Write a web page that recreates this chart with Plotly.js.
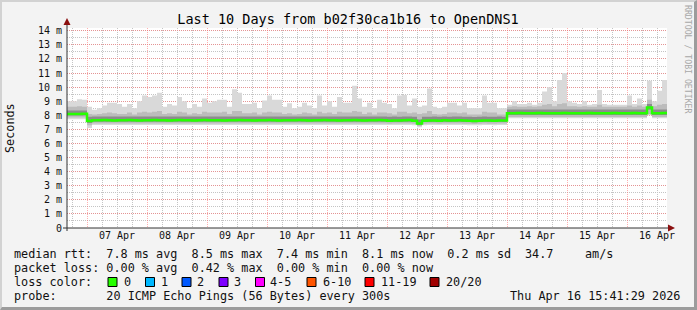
<!DOCTYPE html>
<html><head><meta charset="utf-8">
<script src="https://cdn.plot.ly/plotly-3.0.1.min.js"></script>
<style>
html,body{margin:0;padding:0;background:#f3f3f3;}
#wrap{position:relative;width:697px;height:310px;overflow:hidden;}
#chart{position:absolute;left:0;top:0;width:697px;height:310px;}
#frame{position:absolute;left:0;top:0;width:697px;height:310px;box-sizing:border-box;
border-top:2px solid #d2d2d2;border-left:2px solid #d2d2d2;border-right:3px solid #9c9c9c;border-bottom:3px solid #9c9c9c;pointer-events:none;}
</style></head>
<body><div id="wrap"><div id="chart"></div><div id="frame"></div></div>
<script>
// ---- data (2-hour samples from 06 Apr 16:00) ----
const startTime = Date.UTC(2026, 3, 6, 16, 0, 0);
const stepMs = 2 * 3600 * 1000;

const medianRtt = [
 8.10,8.10,8.10,8.12,7.60,7.65,7.65,7.66,7.65,7.64,
 7.65,7.65,7.66,7.65,7.64,7.65,7.65,7.66,7.65,7.65,
 7.64,7.65,7.66,7.65,7.65,7.64,7.65,7.66,7.65,7.65,
 7.65,7.64,7.65,7.65,7.66,7.65,7.65,7.64,7.65,7.65,
 7.66,7.65,7.64,7.65,7.65,7.65,7.66,7.65,7.64,7.65,
 7.65,7.66,7.65,7.65,7.64,7.65,7.65,7.66,7.65,7.64,
 7.65,7.65,7.66,7.65,7.62,7.64,7.63,7.65,7.66,7.62,
 7.42,7.62,7.63,7.64,7.62,7.65,7.63,7.64,7.65,7.63,
 7.62,7.60,7.62,7.64,7.63,7.62,7.64,7.63,8.15,8.15,
 8.16,8.15,8.14,8.15,8.16,8.15,8.15,8.14,8.15,8.16,
 8.15,8.14,8.15,8.15,8.16,8.15,8.14,8.15,8.15,8.16,
 8.15,8.14,8.15,8.16,8.15,8.15,8.55,8.15,8.15,8.16,
 8.16];

const maxRtt = [
 9.00,9.00,9.15,9.10,8.60,8.40,8.50,8.70,8.90,8.90,
 8.80,8.60,8.80,8.50,9.00,9.40,9.30,9.40,9.60,8.60,
 8.80,8.70,9.30,9.00,8.50,8.80,8.60,9.20,8.90,9.00,
 9.10,9.10,8.60,9.85,9.60,8.80,8.80,8.90,8.50,9.05,
 9.40,9.10,9.10,8.60,8.85,8.50,8.60,8.90,8.70,8.50,
 9.40,8.70,9.00,8.60,9.30,8.90,8.90,10.10,9.20,8.60,
 8.90,8.50,9.10,8.90,8.80,8.50,9.40,9.45,8.70,9.20,
 8.60,8.70,9.90,8.60,8.50,8.60,8.90,8.90,8.70,8.90,
 8.50,8.50,8.50,9.40,8.90,8.90,8.50,8.50,8.75,9.00,
 8.80,8.80,8.90,8.75,8.90,9.70,10.00,9.00,10.50,11.00,
 9.00,8.90,8.80,9.00,8.75,8.80,9.80,8.80,8.75,8.75,
 8.75,8.75,9.40,8.80,9.20,8.80,10.45,9.00,9.75,10.50,
 10.50];

const minRtt = [
 7.72,7.72,7.72,7.72,7.10,7.32,7.32,7.32,7.32,7.32,
 7.32,7.32,7.32,7.32,7.32,7.32,7.32,7.32,7.32,7.32,
 7.32,7.32,7.32,7.32,7.32,7.32,7.32,7.32,7.32,7.32,
 7.32,7.32,7.32,7.32,7.32,7.32,7.32,7.32,7.32,7.32,
 7.32,7.32,7.32,7.32,7.32,7.32,7.32,7.32,7.32,7.32,
 7.32,7.32,7.32,7.32,7.32,7.32,7.32,7.32,7.32,7.32,
 7.32,7.32,7.32,7.32,7.32,7.32,7.32,7.32,7.32,7.30,
 7.15,7.30,7.32,7.32,7.32,7.32,7.32,7.32,7.32,7.32,
 7.30,7.30,7.30,7.32,7.32,7.30,7.32,7.32,7.80,7.80,
 7.80,7.80,7.80,7.80,7.80,7.80,7.80,7.80,7.80,7.80,
 7.80,7.80,7.80,7.80,7.80,7.80,7.80,7.80,7.80,7.80,
 7.80,7.80,7.80,7.80,7.80,7.80,8.00,7.80,7.80,7.80,
 7.80];

const lowBand = [
 7.85,7.85,7.85,7.85,7.30,7.42,7.42,7.42,7.42,7.42,
 7.42,7.42,7.42,7.42,7.42,7.42,7.42,7.42,7.42,7.42,
 7.42,7.42,7.42,7.42,7.42,7.42,7.42,7.42,7.42,7.42,
 7.42,7.42,7.42,7.42,7.42,7.42,7.42,7.42,7.42,7.42,
 7.42,7.42,7.42,7.42,7.42,7.42,7.42,7.42,7.42,7.42,
 7.42,7.42,7.42,7.42,7.42,7.42,7.42,7.42,7.42,7.42,
 7.42,7.42,7.42,7.42,7.40,7.42,7.42,7.42,7.42,7.40,
 7.25,7.40,7.42,7.42,7.40,7.42,7.42,7.42,7.42,7.40,
 7.40,7.38,7.40,7.42,7.40,7.40,7.42,7.42,7.88,7.88,
 7.88,7.88,7.88,7.88,7.88,7.88,7.88,7.88,7.88,7.88,
 7.88,7.88,7.88,7.88,7.88,7.88,7.88,7.88,7.88,7.88,
 7.88,7.88,7.88,7.88,7.88,7.88,8.10,7.88,7.88,7.88,
 7.88];

const highBand = [
 8.60,8.60,8.65,8.60,8.10,8.05,8.10,8.15,8.20,8.15,
 8.10,8.10,8.20,8.05,8.20,8.25,8.20,8.25,8.30,8.10,
 8.15,8.10,8.25,8.20,8.05,8.15,8.10,8.25,8.20,8.20,
 8.20,8.25,8.10,8.30,8.30,8.15,8.15,8.20,8.05,8.20,
 8.25,8.20,8.20,8.10,8.15,8.05,8.10,8.20,8.15,8.05,
 8.25,8.15,8.20,8.10,8.25,8.20,8.20,8.30,8.25,8.10,
 8.20,8.05,8.20,8.20,8.15,8.05,8.25,8.25,8.15,8.20,
 8.10,8.15,8.30,8.10,8.05,8.10,8.20,8.20,8.15,8.20,
 8.05,8.05,8.05,8.25,8.20,8.20,8.05,8.05,8.60,8.65,
 8.60,8.60,8.65,8.60,8.65,8.75,8.80,8.65,8.80,8.85,
 8.65,8.65,8.60,8.65,8.60,8.60,8.75,8.60,8.60,8.60,
 8.60,8.60,8.70,8.60,8.70,8.60,9.10,8.65,8.75,8.80,
 8.80];

const darkLow = [
 7.98,7.98,7.98,7.98,7.45,7.55,7.55,7.55,7.55,7.55,
 7.55,7.55,7.55,7.55,7.55,7.55,7.55,7.55,7.55,7.55,
 7.55,7.55,7.55,7.55,7.55,7.55,7.55,7.55,7.55,7.55,
 7.55,7.55,7.55,7.55,7.55,7.55,7.55,7.55,7.55,7.55,
 7.55,7.55,7.55,7.55,7.55,7.55,7.55,7.55,7.55,7.55,
 7.55,7.55,7.55,7.55,7.55,7.55,7.55,7.55,7.55,7.55,
 7.55,7.55,7.55,7.55,7.52,7.54,7.53,7.55,7.55,7.52,
 7.32,7.52,7.53,7.54,7.52,7.55,7.53,7.54,7.55,7.53,
 7.52,7.50,7.52,7.54,7.53,7.52,7.54,7.53,8.02,8.02,
 8.02,8.02,8.02,8.02,8.02,8.02,8.02,8.02,8.02,8.02,
 8.02,8.02,8.02,8.02,8.02,8.02,8.02,8.02,8.02,8.02,
 8.02,8.02,8.02,8.02,8.02,8.02,8.40,8.02,8.02,8.02,
 8.02];

const darkHigh = [
 8.35,8.35,8.35,8.35,7.90,7.92,7.92,7.92,7.92,7.92,
 7.92,7.92,7.92,7.92,7.92,7.92,7.92,7.92,7.92,7.92,
 7.92,7.92,7.92,7.92,7.92,7.92,7.92,7.92,7.92,7.92,
 7.92,7.92,7.92,7.92,7.92,7.92,7.92,7.92,7.92,7.92,
 7.92,7.92,7.92,7.92,7.92,7.92,7.92,7.92,7.92,7.92,
 7.92,7.92,7.92,7.92,7.92,7.92,7.92,7.92,7.92,7.92,
 7.92,7.92,7.92,7.92,7.90,7.92,7.90,7.92,7.92,7.90,
 7.70,7.90,7.90,7.92,7.90,7.92,7.90,7.92,7.92,7.90,
 7.90,7.88,7.90,7.92,7.90,7.90,7.92,7.90,8.42,8.42,
 8.42,8.42,8.42,8.42,8.42,8.42,8.42,8.42,8.42,8.42,
 8.42,8.42,8.42,8.42,8.42,8.42,8.42,8.42,8.42,8.42,
 8.42,8.42,8.42,8.42,8.42,8.42,8.80,8.42,8.42,8.42,
 8.42];

const yTickValues = [0,1,2,3,4,5,6,7,8,9,10,11,12,13,14];
const yTickLabels = ['0','1 m','2 m','3 m','4 m','5 m','6 m','7 m','8 m','9 m','10 m','11 m','12 m','13 m','14 m'];

const rttStats = ['7.8','8.5','7.4','8.1','0.2'];
const amPerSec = '34.7';
const lossStats = ['0.00','0.42','0.00','0.00'];
const lossLabels = ['0','1','2','3','4-5','6-10','11-19','20/20'];
const lossColors = ['#26ff00','#00b8ff','#0059ff','#7e00ff','#ff00ff','#ff5500','#ff0000','#a10000'];
const probeText = '20 ICMP Echo Pings (56 Bytes) every 300s';
const stampText = 'Thu Apr 16 15:41:29 2026';

// ---- build ----
const times = medianRtt.map((_, i) => startTime + i * stepMs);
const NB = '\u00a0';
const mono = 'DejaVu Sans Mono';
const PX0 = 67, PW = 600, PY0 = 228, PH = 200;
const px = x => (x - PX0) / PW;
const py = y => (PY0 - y) / PH;

function band(lo, hi, color) {
  return [
    {x: times, y: lo, type: 'scatter', mode: 'lines', line: {width: 0, shape: 'hv'}, hoverinfo: 'skip', showlegend: false},
    {x: times, y: hi, type: 'scatter', mode: 'lines', line: {width: 0, shape: 'hv'}, fill: 'tonexty', fillcolor: color, hoverinfo: 'skip', showlegend: false}
  ];
}
const traces = [
  ...band(minRtt, maxRtt, '#d9d9d9'),
  ...band(lowBand, highBand, '#bcbcbc'),
  ...band(darkLow, darkHigh, '#8c8c8c'),
  {x: times, y: medianRtt, type: 'scatter', mode: 'lines', line: {color: lossColors[0], width: 2.5, shape: 'hv'}, hoverinfo: 'skip'}
];

const sp = s => s.replace(/ /g, NB);
const row1 = `median rtt:  ${rttStats[0]} ms avg  ${rttStats[1]} ms max  ${rttStats[2]} ms min  ${rttStats[3]} ms now  ${rttStats[4]} ms sd`;
const row2 = `packet loss: ${lossStats[0]} % avg  ${lossStats[1]} % max  ${lossStats[2]} % min  ${lossStats[3]} % now`;
const row4 = `probe:       ${probeText}`;
const legFont = {family: mono, size: 11.8, color: '#111'};
const ann = [];
function text(t, x, y, opts) {
  ann.push(Object.assign({text: sp(t), xref: 'paper', yref: 'paper', x: px(x), y: py(y), xanchor: 'left', yanchor: 'middle', showarrow: false, font: legFont, borderpad: 0}, opts || {}));
}
text(row1, 13, 254);
text(amPerSec, 524, 254);
text('am/s', 584, 254);
text(row2, 13, 268);
text('loss color:', 13, 282);
text(row4, 13, 296);
text(stampText, 681, 296, {xanchor: 'right'});

const squareX = [108, 145.5, 182, 219, 255.5, 307, 365, 430];
const labelX = [122.5, 159.5, 196, 232.5, 269, 322, 379.5, 444.5];
const shapes = [];
lossLabels.forEach((lab, i) => {
  text(lab, labelX[i], 282);
  shapes.push({type: 'rect', xref: 'paper', yref: 'paper', x0: px(squareX[i]), x1: px(squareX[i] + 9), y0: py(277.5), y1: py(286.5), fillcolor: lossColors[i], line: {color: '#000', width: 1}});
});

// axis lines and arrows
shapes.push({type: 'line', xref: 'paper', yref: 'paper', x0: px(67), x1: px(67), y0: py(231), y1: py(22), line: {color: '#333', width: 1}});
shapes.push({type: 'line', xref: 'paper', yref: 'paper', x0: px(63), x1: px(671), y0: py(228), y1: py(228), line: {color: '#333', width: 1}});
shapes.push({type: 'path', xref: 'paper', yref: 'paper', path: `M${px(63.5)},${py(25)} L${px(70.5)},${py(25)} L${px(67)},${py(18)} Z`, fillcolor: '#8b1010', line: {width: 0}});
shapes.push({type: 'path', xref: 'paper', yref: 'paper', path: `M${px(668)},${py(224.5)} L${px(668)},${py(231.5)} L${px(675)},${py(228)} Z`, fillcolor: '#8b1010', line: {width: 0}});

// y label and watermark
ann.push({text: 'Seconds', xref: 'paper', yref: 'paper', x: px(10), y: py(128), textangle: -90, xanchor: 'center', yanchor: 'middle', showarrow: false, font: {family: mono, size: 11.8, color: '#111'}});
ann.push({text: sp('RRDTOOL / TOBI OETIKER'), xref: 'paper', yref: 'paper', x: px(688), y: py(59), textangle: 90, xanchor: 'center', yanchor: 'middle', showarrow: false, font: {family: mono, size: 8.2, color: '#a8a8a8'}});

const majorGrid = 'rgba(255,110,110,0.55)';
const minorGrid = '#c4c4c4';
const layout = {
  width: 697, height: 310,
  margin: {l: 67, r: 30, t: 28, b: 82, pad: 0},
  paper_bgcolor: '#f3f3f3', plot_bgcolor: '#ffffff',
  showlegend: false,
  font: {family: mono, color: '#111'},
  title: {text: 'Last 10 Days from b02f30ca1b16 to OpenDNS1', font: {family: mono, size: 13.5, color: '#000'},
          xref: 'container', yref: 'container', x: 348 / 697, y: 1 - 19 / 310, xanchor: 'center', yanchor: 'middle'},
  xaxis: {
    type: 'date', range: ['2026-04-06 16:00', '2026-04-16 16:00'],
    tick0: '2026-04-07', dtick: 86400000, tickformat: '%d %b', ticklabelmode: 'period',
    tickfont: {family: mono, size: 10, color: '#111'}, ticks: '',
    showgrid: true, gridcolor: majorGrid, griddash: '1px,1px', gridwidth: 1,
    minor: {dtick: 21600000, showgrid: true, gridcolor: minorGrid, griddash: '1px,1px', gridwidth: 1},
    zeroline: false, showline: false, fixedrange: true
  },
  yaxis: {
    range: [0, 14.2], tickvals: yTickValues, ticktext: yTickLabels,
    tickfont: {family: mono, size: 10, color: '#111'}, ticks: '', ticklabelstandoff: 4,
    showgrid: true, gridcolor: majorGrid, griddash: '1px,1px', gridwidth: 1,
    minor: {dtick: 0.5, showgrid: true, gridcolor: minorGrid, griddash: '1px,1px', gridwidth: 1},
    zeroline: false, showline: false, fixedrange: true
  },
  shapes: shapes,
  annotations: ann
};
Plotly.newPlot('chart', traces, layout, {staticPlot: true, displayModeBar: false});
</script></body></html>
